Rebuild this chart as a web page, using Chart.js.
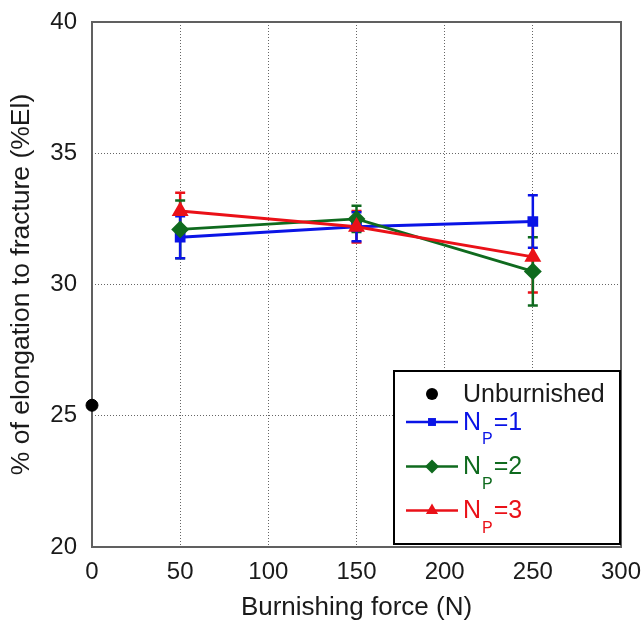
<!DOCTYPE html>
<html>
<head>
<meta charset="utf-8">
<script src="https://cdn.jsdelivr.net/npm/chart.js@4.4.1/dist/chart.umd.min.js"></script>
<style>
html, body { margin: 0; padding: 0; background: #fff; }
</style>
</head>
<body>
<canvas id="chart" width="644" height="627"></canvas>
<script>
// data
const forces = [50, 150, 250];
const unburnished_x = [0];
const unburnished_y = [25.4];
const np1_values = [31.8, 32.2, 32.4];
const np1_errors = [0.8, 0.55, 1.0];
const np2_values = [32.1, 32.5, 30.5];
const np2_errors = [1.1, 0.5, 1.3];
const np3_values = [32.8, 32.2, 31.05];
const np3_errors = [0.7, 0.6, 1.35];
const series_labels = ['Unburnished', 'N_P=1', 'N_P=2', 'N_P=3'];
const x_ticks = [0, 50, 100, 150, 200, 250, 300];
const y_ticks = [20, 25, 30, 35, 40];

const FONT = "'Liberation Sans', Arial, sans-serif";
const TEXT = '#1a1a1a';

function toPoints(xs, ys) {
    return xs.map((x, i) => ({ x: x, y: ys[i] }));
}

// vertical error bars with caps, drawn under the markers
const errorBars = {
    id: 'errorBars',
    beforeDatasetsDraw(chart) {
        const ctx = chart.ctx;
        const xs = chart.scales.x, ys = chart.scales.y;
        chart.data.datasets.slice().reverse().forEach(ds => {
            if (!ds.errors) return;
            ctx.save();
            ctx.strokeStyle = ds.borderColor;
            ctx.lineWidth = 2.5;
            ds.data.forEach((pt, i) => {
                const px = xs.getPixelForValue(pt.x);
                const top = ys.getPixelForValue(pt.y + ds.errors[i]);
                const bot = ys.getPixelForValue(pt.y - ds.errors[i]);
                ctx.beginPath();
                ctx.moveTo(px, top); ctx.lineTo(px, bot);
                ctx.moveTo(px - 5, top); ctx.lineTo(px + 5, top);
                ctx.moveTo(px - 5, bot); ctx.lineTo(px + 5, bot);
                ctx.stroke();
            });
            ctx.restore();
        });
    }
};

// box round the plot area
const frame = {
    id: 'frame',
    beforeDatasetsDraw(chart) {
        const a = chart.chartArea;
        const ctx = chart.ctx;
        ctx.save();
        ctx.strokeStyle = '#606060';
        ctx.lineWidth = 2;
        ctx.strokeRect(a.left, a.top, a.right - a.left, a.bottom - a.top);
        ctx.restore();
    }
};

function drawMarker(ctx, style, x, y, r) {
    ctx.beginPath();
    if (style === 'circle') {
        ctx.arc(x, y, r, 0, Math.PI * 2);
    } else if (style === 'rect') {
        const s = r * Math.SQRT1_2;
        ctx.rect(x - s, y - s, 2 * s, 2 * s);
    } else if (style === 'rectRot') {
        ctx.moveTo(x, y - r); ctx.lineTo(x + r, y); ctx.lineTo(x, y + r); ctx.lineTo(x - r, y);
        ctx.closePath();
    } else if (style === 'triangle') {
        const e = r * Math.sqrt(3);
        ctx.moveTo(x, y - r); ctx.lineTo(x + e / 2, y + r / 2); ctx.lineTo(x - e / 2, y + r / 2);
        ctx.closePath();
    }
    ctx.fill();
}

// legend box sitting inside the bottom right of the plot
const boxLegend = {
    id: 'boxLegend',
    afterDraw(chart) {
        const ctx = chart.ctx;
        const a = chart.chartArea;
        const left = 394, top = 371, right = a.right - 1, bottom = a.bottom - 3;
        ctx.save();
        ctx.fillStyle = '#fff';
        ctx.fillRect(left, top, right - left, bottom - top);
        ctx.strokeStyle = '#000';
        ctx.lineWidth = 2;
        ctx.strokeRect(left, top, right - left, bottom - top);

        const rows = [394, 422, 466.5, 510.5];
        chart.data.datasets.forEach((ds, i) => {
            const y = rows[i];
            const col = ds.borderColor;
            if (ds.showLine !== false) {
                ctx.strokeStyle = col;
                ctx.lineWidth = 2.5;
                ctx.beginPath();
                ctx.moveTo(406, y); ctx.lineTo(458, y);
                ctx.stroke();
            }
            ctx.fillStyle = ds.pointBackgroundColor;
            drawMarker(ctx, ds.pointStyle, 432, y, ds.pointRadius);

            ctx.fillStyle = ds.showLine === false ? TEXT : col;
            ctx.textBaseline = 'middle';
            ctx.textAlign = 'left';
            const parts = ds.label.split('_');
            let x = 463;
            ctx.font = '25px ' + FONT;
            ctx.fillText(parts[0], x, y + 1);
            x += ctx.measureText(parts[0]).width;
            if (parts.length > 1) {
                const sub = parts[1].charAt(0);
                const rest = parts[1].slice(1);
                ctx.font = '16px ' + FONT;
                ctx.fillText(sub, x + 1, y + 18);
                x += ctx.measureText(sub).width + 2;
                ctx.font = '25px ' + FONT;
                ctx.fillText(rest, x, y + 1);
            }
        });
        ctx.restore();
    }
};

const line_colors = ['#000000', '#0a14e6', '#0f6a1e', '#ea1118'];

new Chart(document.getElementById('chart'), {
    type: 'line',
    plugins: [frame, errorBars, boxLegend],
    data: {
        datasets: [
            {
                label: series_labels[0],
                data: toPoints(unburnished_x, unburnished_y),
                showLine: false,
                clip: false,
                borderColor: line_colors[0],
                pointBackgroundColor: line_colors[0],
                pointBorderColor: line_colors[0],
                pointStyle: 'circle',
                pointRadius: 6,
                order: 0
            },
            {
                label: series_labels[1],
                data: toPoints(forces, np1_values),
                errors: np1_errors,
                borderColor: line_colors[1],
                borderWidth: 2.8,
                pointBackgroundColor: line_colors[1],
                pointBorderColor: line_colors[1],
                pointStyle: 'rect',
                pointRadius: 5.6,
                order: 3
            },
            {
                label: series_labels[2],
                data: toPoints(forces, np2_values),
                errors: np2_errors,
                borderColor: line_colors[2],
                borderWidth: 2.8,
                pointBackgroundColor: line_colors[2],
                pointBorderColor: line_colors[2],
                pointStyle: 'rectRot',
                pointRadius: 7,
                order: 2
            },
            {
                label: series_labels[3],
                data: toPoints(forces, np3_values),
                errors: np3_errors,
                borderColor: line_colors[3],
                borderWidth: 2.8,
                pointBackgroundColor: line_colors[3],
                pointBorderColor: line_colors[3],
                pointStyle: 'triangle',
                pointRadius: 7,
                order: 1
            }
        ]
    },
    options: {
        responsive: false,
        animation: false,
        layout: { padding: { top: 22, right: 23, left: 0, bottom: 0 } },
        plugins: {
            legend: { display: false },
            tooltip: { enabled: false }
        },
        scales: {
            x: {
                type: 'linear',
                min: x_ticks[0],
                max: x_ticks[x_ticks.length - 1],
                afterBuildTicks: s => { s.ticks = x_ticks.map(v => ({ value: v })); },
                afterFit: s => { s.height = 80; s.paddingLeft = 0; s.paddingRight = 0; },
                grid: { color: '#666', lineWidth: 1, drawTicks: false },
                border: { display: false, dash: [1, 2] },
                ticks: { color: TEXT, font: { family: FONT, size: 24 }, padding: 11, maxRotation: 0 },
                title: { display: true, text: 'Burnishing force (N)', color: TEXT,
                         font: { family: FONT, size: 26 }, padding: { top: 0, bottom: 4 } }
            },
            y: {
                type: 'linear',
                min: y_ticks[0],
                max: y_ticks[y_ticks.length - 1],
                afterBuildTicks: s => { s.ticks = y_ticks.map(v => ({ value: v })); },
                afterFit: s => { s.width = 92; s.paddingTop = 0; s.paddingBottom = 0; },
                grid: { color: '#666', lineWidth: 1, drawTicks: false },
                border: { display: false, dash: [1, 2] },
                ticks: { color: TEXT, font: { family: FONT, size: 24 }, padding: 15 },
                title: { display: true, text: '% of elongation to fracture (%El)', color: TEXT,
                         font: { family: FONT, size: 26.5 }, padding: { top: 6, bottom: 0 } }
            }
        }
    }
});
</script>
</body>
</html>
